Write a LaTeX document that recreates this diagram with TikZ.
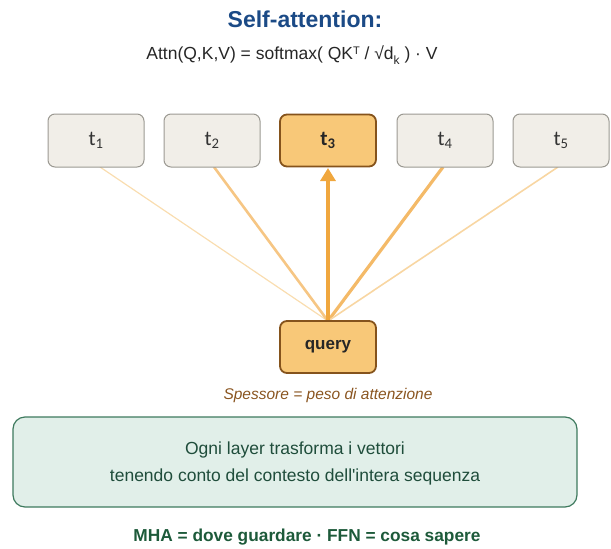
\documentclass[tikz,border=0pt]{standalone}
\usepackage{fontspec}
\setmainfont{Liberation Sans}[Ligatures=TeXOff]
\newfontfamily\tokfont{Carlito}
\usetikzlibrary{arrows.meta}
\definecolor{titleblue}{HTML}{1B4A86}
\definecolor{tokfill}{HTML}{F1EEE8}
\definecolor{tokdraw}{HTML}{9B9992}
\definecolor{hotfill}{HTML}{F8C878}
\definecolor{hotdraw}{HTML}{85531C}
\definecolor{capbrown}{HTML}{8A5520}
\definecolor{boxfill}{HTML}{E1EFE9}
\definecolor{boxdraw}{HTML}{3E7A5E}
\definecolor{boxtext}{HTML}{1F4D3B}
\definecolor{bottomtext}{HTML}{1D5A3A}
\definecolor{wA}{HTML}{F9DDB0}
\definecolor{wB}{HTML}{F6C684}
\definecolor{wC}{HTML}{F0A73E}
\definecolor{wD}{HTML}{F4BA68}
\definecolor{wE}{HTML}{F8D6A2}
\tikzset{
  tok/.style={draw=tokdraw, fill=tokfill, line width=1pt, rounded corners=7pt,
    minimum width=96pt, minimum height=53pt, font=\tokfont\fontsize{21}{24}\selectfont, text=black!80},
  hot/.style={draw=hotdraw, fill=hotfill, line width=1.8pt, rounded corners=7pt,
    minimum width=96pt, minimum height=52pt, text=black!85},
  attn/.style={line cap=butt}
}
\begin{document}
\begin{tikzpicture}[x=1pt,y=-1pt]
\useasboundingbox (0,0) rectangle (611,549);

% heading and formula
\node[font=\bfseries\fontsize{23}{27}\selectfont, text=titleblue] (title) at (305,19) {Self-attention:};
\node[font=\fontsize{17.5}{21}\selectfont, text=black!85] (formula) at (292,55)
  {Attn(Q,K,V) = softmax( QK\raisebox{0.45ex}{\fontsize{11}{13}\selectfont T} / √d\raisebox{-0.6ex}{\fontsize{12}{14}\selectfont k} ) · V};

% attention weights drawn first, under the boxes
\coordinate (qtop) at (328,321);
\coordinate (b1) at (100,167);
\coordinate (b2) at (214,167);
\coordinate (b3) at (328,168);
\coordinate (b4) at (443,167);
\coordinate (b5) at (558,167);
\draw[attn, wA, line width=1.2pt] (qtop) -- (b1);
\draw[attn, wB, line width=2.6pt] (qtop) -- (b2);
\draw[attn, wD, line width=3.2pt] (qtop) -- (b4);
\draw[attn, wE, line width=1.6pt] (qtop) -- (b5);
\draw[attn, wC, line width=4.2pt, -{Triangle[length=13pt,width=15pt]}] (qtop) -- (b3);

% tokens
\node[tok] (t1) at (96,140.5) {t\textsubscript{1}};
\node[tok] (t2) at (212,140.5) {t\textsubscript{2}};
\node[hot, font=\tokfont\bfseries\fontsize{21}{24}\selectfont] (t3) at (328,140.5) {t\textsubscript{3}};
\node[tok] (t4) at (445,140.5) {t\textsubscript{4}};
\node[tok] (t5) at (561,140.5) {t\textsubscript{5}};

% query
\node[hot, font=\bfseries\fontsize{17}{20}\selectfont] (query) at (328,347) {query};
\node[font=\itshape\fontsize{15.5}{18}\selectfont, text=capbrown] (caption) at (328,395)
  {Spessore = peso di attenzione};

% summary panel
\node[draw=boxdraw, fill=boxfill, line width=1.2pt, rounded corners=12pt,
  minimum width=564pt, minimum height=90pt] (panel) at (295,462) {};
\node[font=\fontsize{17.5}{21}\selectfont, text=boxtext, align=center] (paneltext) at (295,463)
  {Ogni layer trasforma i vettori\\[6pt]tenendo conto del contesto dell'intera sequenza};

\node[font=\bfseries\fontsize{17.3}{20}\selectfont, text=bottomtext] (bottom) at (307,537)
  {MHA = dove guardare · FFN = cosa sapere};
\end{tikzpicture}
\end{document}
